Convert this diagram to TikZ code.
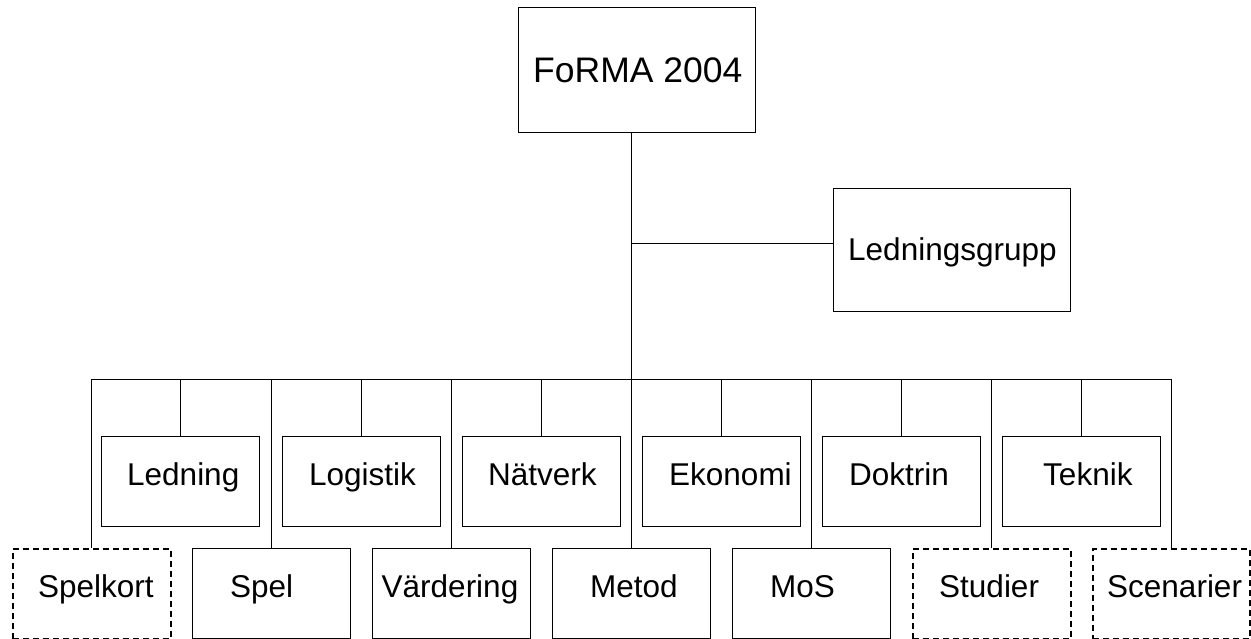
\documentclass[tikz,border=0pt]{standalone}
\usepackage{fontspec}
\setmainfont{Liberation Sans}
\begin{document}
\begin{tikzpicture}[x=1pt,y=-1pt,
  box/.style={draw, line width=1.1pt, minimum width=158pt, minimum height=90pt, inner sep=0pt, anchor=north west},
  dbox/.style={box, dash pattern=on 6pt off 4pt, line width=1.5pt},
  bigbox/.style={box, minimum width=237pt},
  txt/.style={anchor=base west, inner sep=0pt, font=\fontsize{31.5}{36}\selectfont},
  conn/.style={line width=1pt}]
\useasboundingbox (0,0) rectangle (1251,639);
% top boxes
\node[bigbox, minimum height=125pt] (forma) at (518,7) {};
\node[bigbox, minimum height=123pt] (lg) at (833,188) {};
% upper row
\node[box] (ledning) at (101,436) {};
\node[box] (logistik) at (282,436) {};
\node[box] (natverk) at (462,436) {};
\node[box] (ekonomi) at (642,436) {};
\node[box] (doktrin) at (822,436) {};
\node[box] (teknik) at (1002,436) {};
% lower row
\node[dbox] (spelkort) at (12,548) {};
\node[box] (spel) at (192,548) {};
\node[box] (vard) at (372,548) {};
\node[box] (metod) at (552,548) {};
\node[box] (mos) at (732,548) {};
\node[dbox] (studier) at (912,548) {};
\node[dbox, minimum width=157pt] (scen) at (1092,548) {};
% texts
\node[txt, font=\fontsize{35.5}{40}\selectfont] (tforma) at (533,83) {FoRMA 2004};
\node[txt] (tlg) at (848,261) {Ledningsgrupp};
\node[txt] (tledning) at (127,485) {Ledning};
\node[txt] (tlogistik) at (309,485) {Logistik};
\node[txt] (tnatverk) at (488,485) {Nätverk};
\node[txt] (tekonomi) at (669,485) {Ekonomi};
\node[txt] (tdoktrin) at (849,485) {Doktrin};
\node[txt] (tteknik) at (1043,485) {Teknik};
\node[txt] (tspelkort) at (38,597) {Spelkort};
\node[txt] (tspel) at (230,597) {Spel};
\node[txt, anchor=base] (tvard) at (450,597) {Värdering};
\node[txt] (tmetod) at (590,597) {Metod};
\node[txt] (tmos) at (770,597) {MoS};
\node[txt] (tstudier) at (939,597) {Studier};
\node[txt] (tscen) at (1107,597) {Scenarier};
% connectors
\coordinate (bus) at (631,379);
\coordinate (jl) at (631,244);
\draw[conn] (bus |- forma.south) -- (bus |- metod.north);
\draw[conn] (jl) -- (jl -| lg.west);
\draw[conn] (spelkort.north |- bus) -- (scen.north |- bus);
\foreach \n in {ledning,logistik,natverk,ekonomi,doktrin,teknik,spelkort,spel,vard,mos,studier,scen}
  \draw[conn] (\n.north) -- (\n.north |- bus);
\end{tikzpicture}
\end{document}
